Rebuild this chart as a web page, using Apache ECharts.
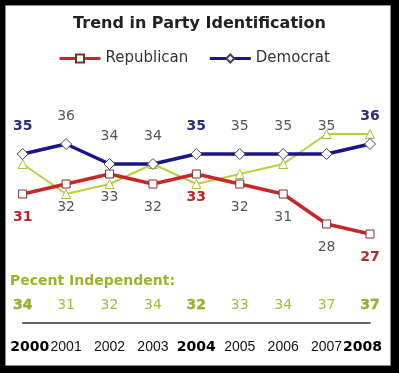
<!DOCTYPE html>
<html>
<head>
<meta charset="utf-8">
<script src="https://cdn.jsdelivr.net/npm/echarts@6/dist/echarts.min.js"></script>
<style>
html,body{margin:0;padding:0;background:#000;}
#chart{width:399px;height:373px;}
</style>
</head>
<body>
<div id="chart"></div>
<script>
// ---- data ----
var years = ['2000','2001','2002','2003','2004','2005','2006','2007','2008'];
var republican = [31, 32, 33, 32, 33, 32, 31, 28, 27];
var democrat = [35, 36, 34, 34, 35, 35, 35, 35, 36];
var independent = [34, 31, 32, 34, 32, 33, 34, 37, 37];
var highlightIdx = [0, 4, 8];

var FONT = 'DejaVu Sans';
function isHi(i){ return highlightIdx.indexOf(i) >= 0; }

function withLabels(arr, hiColor, normColor){
  return arr.map(function(v, i){
    return {
      value: v,
      label: {
        color: isHi(i) ? hiColor : normColor,
        fontWeight: isHi(i) ? 'bold' : 'normal'
      }
    };
  });
}

var chart = echarts.init(document.getElementById('chart'), null, {renderer:'canvas'});
chart.setOption({
  backgroundColor: '#000',
  animation: false,
  graphic: [{
    type: 'rect', z: -1, silent: true,
    shape: {x: 5.5, y: 5.5, width: 385, height: 360},
    style: {fill: '#fff', stroke: '#8a8a8a', lineWidth: 1}
  }],
  title: [{
    text: 'Trend in Party Identification',
    left: 'center', top: 16, padding: 0,
    textStyle: {fontFamily: FONT, fontSize: 16, fontWeight: 'bold', color: '#222'}
  },{
    text: 'Pecent Independent:',
    left: 10, top: 274, padding: 0,
    textStyle: {fontFamily: FONT, fontSize: 14, fontWeight: 'bold', color: '#9ab52c'}
  }],
  legend: {
    top: 46, left: 53,
    itemWidth: 41, itemHeight: 10, itemGap: 20,
    data: ['Republican', 'Democrat'],
    lineStyle: {width: 3},
    textStyle: {fontFamily: FONT, fontSize: 15, color: '#333'}
  },
  grid: {left: 22.7, right: 29, top: 104, bottom: 119},
  xAxis: [{
    type: 'category', data: years, boundaryGap: false,
    position: 'bottom', offset: 69,
    axisLine: {show: true, lineStyle: {color: '#333', width: 1.5}},
    axisTick: {show: false},
    splitLine: {show: false},
    axisLabel: {
      margin: 17, interval: 0,
      fontFamily: 'Liberation Sans', fontSize: 14, color: '#111',
      formatter: function(v, i){
        if (i === 0) return '{first|' + v + '}';
        if (i === years.length - 1) return '{last|' + v + '}';
        if (isHi(i)) return '{hi|' + v + '}';
        return v;
      },
      rich: {
        hi: {fontFamily: FONT, fontWeight: 'bold', fontSize: 14, color: '#000'},
        first: {fontFamily: FONT, fontWeight: 'bold', fontSize: 14, color: '#000', padding: [0,0,0,14]},
        last: {fontFamily: FONT, fontWeight: 'bold', fontSize: 14, color: '#000', padding: [0,15,0,0]}
      }
    }
  },{
    type: 'category', data: years, boundaryGap: false,
    position: 'bottom', offset: 40,
    axisLine: {show: false}, axisTick: {show: false}, splitLine: {show: false},
    axisLabel: {
      margin: 4, interval: 0,
      formatter: function(v, i){
        return isHi(i) ? '{hi|' + independent[i] + '}' : '{n|' + independent[i] + '}';
      },
      rich: {
        n: {fontFamily: FONT, fontSize: 14, color: '#a2bc3c'},
        hi: {fontFamily: FONT, fontSize: 14, fontWeight: 'bold', color: '#96b32a', textBorderColor: '#6b7a2a', textBorderWidth: 0.3}
      }
    }
  }],
  yAxis: {type: 'value', min: 25, max: 40, show: false, splitLine: {show: false}},
  series: [{
    name: 'Independent', type: 'line', data: independent,
    symbol: 'triangle', symbolSize: 9,
    lineStyle: {color: '#b8d040', width: 2},
    itemStyle: {color: '#fff', borderColor: '#a8c238', borderWidth: 1},
    z: 2
  },{
    name: 'Republican', type: 'line',
    data: withLabels(republican, '#b52626', '#555'),
    symbol: 'rect', symbolSize: 8,
    lineStyle: {color: '#c62828', width: 3.5},
    itemStyle: {color: '#fff', borderColor: '#7a3030', borderWidth: 1},
    label: {show: true, position: 'bottom', distance: 12, fontFamily: FONT, fontSize: 14},
    z: 3
  },{
    name: 'Democrat', type: 'line',
    data: withLabels(democrat, '#2a2a80', '#555'),
    symbol: 'diamond', symbolSize: 11,
    lineStyle: {color: '#17178a', width: 3.5},
    itemStyle: {color: '#fff', borderColor: '#444', borderWidth: 1},
    label: {show: true, position: 'top', distance: 15, fontFamily: FONT, fontSize: 14},
    z: 4
  }]
});
</script>
</body>
</html>
